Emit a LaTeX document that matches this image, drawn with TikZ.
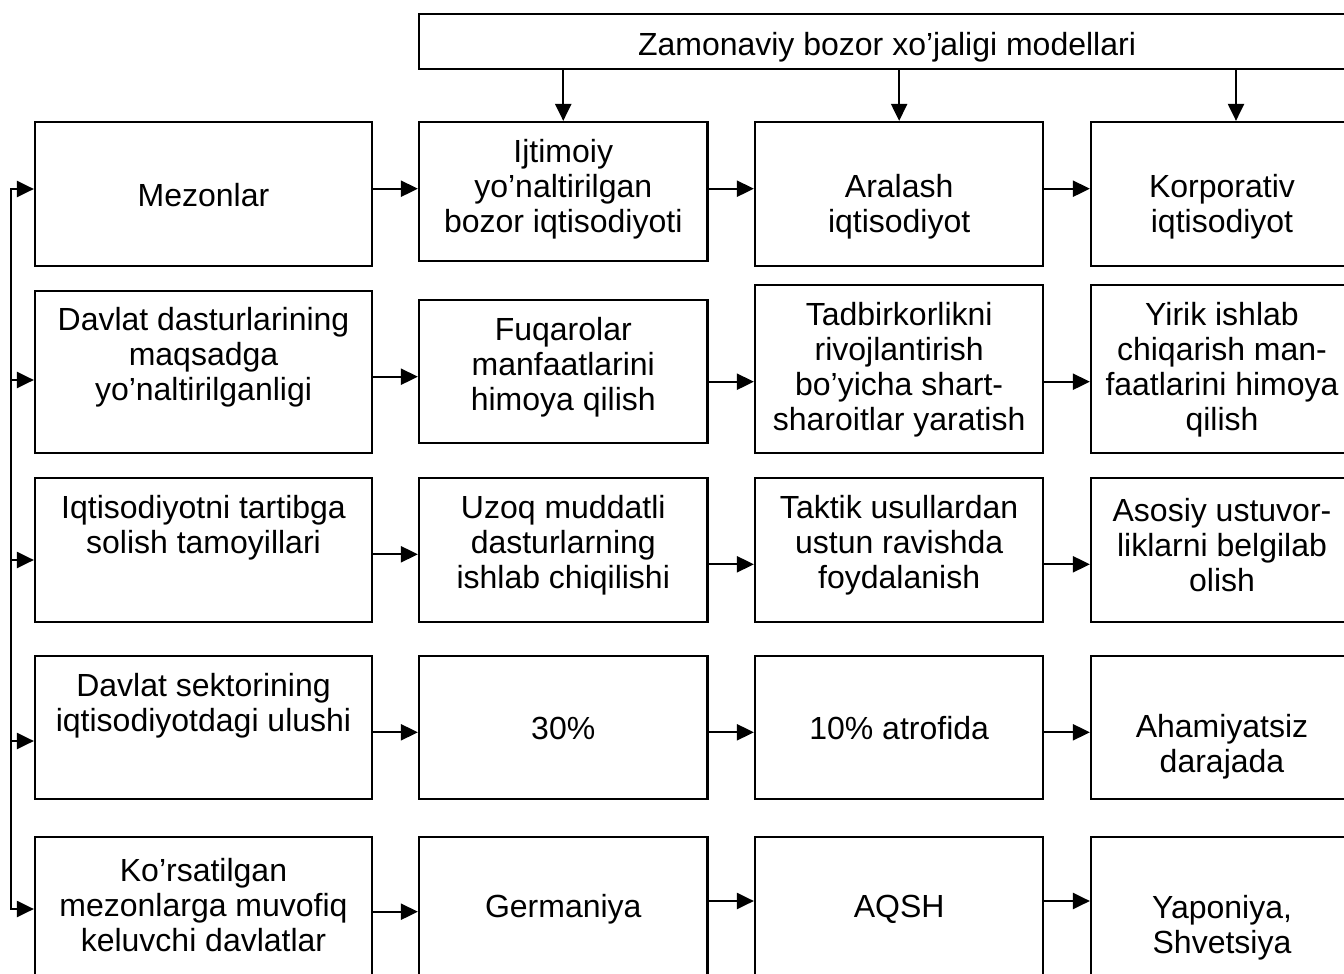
\documentclass[tikz,border=0pt]{standalone}
\usepackage{fontspec}
\setmainfont{Liberation Sans}
\usepackage{tikz}
\usetikzlibrary{arrows.meta}

\newcommand\cellfont{\fontsize{16}{17.5}\selectfont}
% name, x, width, top, bottom, text y, text (all in px)
\newcommand\modelcell[7]{%
  \node[cellbox,minimum width=#3*0.5pt,minimum height={(#5-#4)*0.5pt}] (#1) at (#2,{(#4+#5)/2}) {};
  \node[celltext] (#1-t) at (#2,#6) {#7};
}

\begin{document}
\begin{tikzpicture}[x=0.5pt,y=-0.5pt,line width=1.1pt,
                    >={Triangle[length=8.5pt,width=8pt]}]
    \tikzstyle{cellbox}=[draw,inner sep=0pt]
    \tikzstyle{celltext}=[align=center,inner sep=0pt,font=\cellfont]

    \useasboundingbox (0,0) rectangle (1344,974);
    \clip (0,0) rectangle (1344,974);

    \node[cellbox,minimum width=468pt,minimum height=27.5pt] (top) at (887,41.5) {};
    \node[celltext] (top-t) at (887,47) {Zamonaviy bozor xo’jaligi modellari};

    % row 1
    \modelcell{r1c1}{203.5}{337}{122}{266}{195}{Mezonlar}
    \modelcell{r1c2}{563.25}{288.5}{122}{261}{189}{Ijtimoiy\\yo’naltirilgan\\bozor iqtisodiyoti}
    \modelcell{r1c3}{899.15}{288.3}{122}{266}{206.5}{Aralash\\iqtisodiyot}
    \modelcell{r1c4}{1222}{262}{122}{266}{206.5}{Korporativ\\iqtisodiyot}
    % row 2
    \modelcell{r2c1}{203.5}{337}{290.7}{452.7}{357}{Davlat dasturlarining\\maqsadga\\yo’naltirilganligi}
    \modelcell{r2c2}{563.25}{288.5}{300}{443.3}{367}{Fuqarolar\\manfaatlarini\\himoya qilish}
    \modelcell{r2c3}{899.15}{288.3}{285}{452.7}{369.5}{Tadbirkorlikni\\rivojlantirish\\bo’yicha shart-\\sharoitlar yaratish}
    \modelcell{r2c4}{1222}{262}{285}{452.7}{369.5}{Yirik ishlab\\chiqarish man-\\faatlarini himoya\\qilish}
    % row 3
    \modelcell{r3c1}{203.5}{337}{477.7}{621.7}{527.5}{Iqtisodiyotni tartibga\\solish tamoyillari}
    \modelcell{r3c2}{563.25}{288.5}{477.7}{621.7}{545}{Uzoq muddatli\\dasturlarning\\ishlab chiqilishi}
    \modelcell{r3c3}{899.15}{288.3}{477.7}{621.7}{545}{Taktik usullardan\\ustun ravishda\\foydalanish}
    \modelcell{r3c4}{1222}{262}{477.7}{621.7}{545}{Asosiy ustuvor-\\liklarni belgilab\\olish}
    % row 4
    \modelcell{r4c1}{203.5}{337}{655.7}{799.3}{705.5}{Davlat sektorining\\iqtisodiyotdagi ulushi}
    \modelcell{r4c2}{563.25}{288.5}{655.7}{799.3}{728}{30\%}
    \modelcell{r4c3}{899.15}{288.3}{655.7}{799.3}{728}{10\% atrofida}
    \modelcell{r4c4}{1222}{262}{655.7}{799.3}{746.5}{Ahamiyatsiz\\darajada}
    % row 5
    \modelcell{r5c1}{203.5}{337}{836.7}{1000}{905}{Ko’rsatilgan\\mezonlarga muvofiq\\keluvchi davlatlar}
    \modelcell{r5c2}{563.25}{288.5}{836.7}{1000}{909}{Germaniya}
    \modelcell{r5c3}{899.15}{288.3}{836.7}{1000}{909}{AQSH}
    \modelcell{r5c4}{1222}{262}{836.7}{1000}{927.5}{Yaponiya,\\Shvetsiya}

    % from the title
    \draw[->] (top.south -| r1c2) -- (r1c2);
    \draw[->] (top.south -| r1c3) -- (r1c3);
    \draw[->] (top.south -| 1236,0) -- (r1c4.north -| 1236,0);

    % along the rows
    \draw[->] (r1c1.east |- 0,188.7) -- (r1c2.west |- 0,188.7);
    \draw[->] (r1c2.east |- 0,188.7) -- (r1c3.west |- 0,188.7);
    \draw[->] (r1c3.east |- 0,188.7) -- (r1c4.west |- 0,188.7);
    \draw[->] (r2c1.east |- 0,376.7) -- (r2c2.west |- 0,376.7);
    \draw[->] (r2c2.east |- 0,381.7) -- (r2c3.west |- 0,381.7);
    \draw[->] (r2c3.east |- 0,381.7) -- (r2c4.west |- 0,381.7);
    \draw[->] (r3c1.east |- 0,554.3) -- (r3c2.west |- 0,554.3);
    \draw[->] (r3c2.east |- 0,564.3) -- (r3c3.west |- 0,564.3);
    \draw[->] (r3c3.east |- 0,564.3) -- (r3c4.west |- 0,564.3);
    \draw[->] (r4c1.east |- 0,732.3) -- (r4c2.west |- 0,732.3);
    \draw[->] (r4c2.east |- 0,732.3) -- (r4c3.west |- 0,732.3);
    \draw[->] (r4c3.east |- 0,732.3) -- (r4c4.west |- 0,732.3);
    \draw[->] (r5c1.east |- 0,911.7) -- (r5c2.west |- 0,911.7);
    \draw[->] (r5c2.east |- 0,901) -- (r5c3.west |- 0,901);
    \draw[->] (r5c3.east |- 0,901) -- (r5c4.west |- 0,901);

    % left bus into the criteria
    \coordinate (bus) at (11,189);
    \coordinate (busend) at (11,909);
    \draw[<->] (r1c1.west |- bus) -- (bus) -- (busend) -- (r5c1.west |- busend);
    \draw[->] (bus |- 0,380) -- (r2c1.west |- 0,380);
    \draw[->] (bus |- 0,560) -- (r3c1.west |- 0,560);
    \draw[->] (bus |- 0,741) -- (r4c1.west |- 0,741);
\end{tikzpicture}
\end{document}
